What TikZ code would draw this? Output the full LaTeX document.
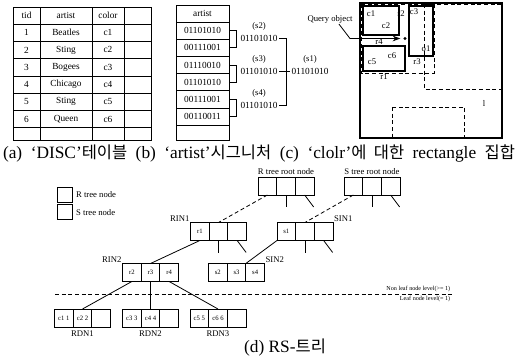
\documentclass[tikz,border=0pt]{standalone}
\usepackage{fontspec}
\setmainfont{Liberation Serif}
\newfontfamily\kr[Scale=0.95]{Noto Sans CJK KR}
\usetikzlibrary{arrows.meta,positioning}

\tikzset{
  tab/.style={font=\fontsize{7}{8}\selectfont, inner sep=0pt},
  bits/.style={font=\fontsize{7}{8}\selectfont, inner sep=1pt},
  lbl/.style={font=\fontsize{6.5}{7}\selectfont, inner sep=0.5pt},
  lvl/.style={font=\fontsize{4.6}{5}\selectfont, inner sep=1pt},
  captxt/.style={font=\fontsize{13}{15}\selectfont, inner sep=0pt},
  cell/.style={draw, minimum width=14pt, minimum height=13.5pt, inner sep=0pt,
    outer sep=0pt, font=\fontsize{5}{5}\selectfont},
  key/.style={draw, minimum width=11.25pt, minimum height=11.25pt, inner sep=0pt},
  mbr/.style={line width=1.1pt},
  dashln/.style={dash pattern=on 3pt off 2pt},
}

\begin{document}
\begin{tikzpicture}[x=0.75pt, y=-0.75pt, >=Stealth, line width=0.6pt]
  \useasboundingbox (0,0) rectangle (520,358);

  % (a) DISC table
  \draw (13,7) rectangle (151,140);
  \foreach \x in {40,92,124} \draw (\x,7) -- (\x,140);
  \foreach \y in {24,41.3,58.6,75.9,93.2,110.5,127.8} \draw (13,\y) -- (151,\y);
  \node[tab] (hTid) at (26.5,15.5) {tid};
  \node[tab] (hArtist) at (66,15.5) {artist};
  \node[tab] (hColor) at (108,15.5) {color};
  \foreach \a [count=\i] in {Beatles,Sting,Bogees,Chicago,Sting,Queen} {
    \node[tab] (tid\i) at (26.5,{24+17.3*(\i-0.5)}) {\i};
    \node[tab] (artist\i) at (66,{24+17.3*(\i-0.5)}) {\a};
    \node[tab] (color\i) at (108,{24+17.3*(\i-0.5)}) {c\i};
  }

  % (b) artist signatures
  \draw (176,5) rectangle (229,140);
  \foreach \y in {22,39.2,56.4,73.6,90.8,108,125.2} \draw (176,\y) -- (229,\y);
  \coordinate (sigR) at (229,0);
  \node[tab] (hSig) at (202.5,13.5) {artist};
  \foreach \b [count=\i] in {01101010,00111001,01110010,01101010,00111001,00110011}
    \node[bits] (sig\i) at (202.5,{22+17.2*(\i-0.5)}) {\b};
  \node[bits] (or2) at (259,38) {01101010};
  \node[bits] (or3) at (259,71) {01101010};
  \node[bits] (or4) at (259,105) {01101010};
  \node[lbl, above=1pt of or2] (s2) {(s2)};
  \node[lbl, above=1pt of or3] (s3) {(s3)};
  \node[lbl, above=1pt of or4] (s4) {(s4)};
  \draw (sig1 -| sigR) -- ++(7,0) |- (sig2 -| sigR);
  \draw (sig3 -| sigR) -- ++(7,0) |- (sig4 -| sigR);
  \draw (sig5 -| sigR) -- ++(7,0) |- (sig6 -| sigR);
  \coordinate (orR) at (286,0);
  \draw (or2.east) -- (or2 -| orR) -- (or4 -| orR) -- (or4.east);
  \node[bits] (or1) at (310,71) {01101010};
  \node[lbl, above=1pt of or1] (s1) {(s1)};
  \draw (or3.east) -- (or1.west);

  % (c) color rectangles
  \draw[line width=0.9pt] (360,3) rectangle (502,138);
  \draw[dashln] (424,4) rectangle (501,89);
  \draw[dashln] (361,4) rectangle (434,73);
  \draw[dashln] (392,107) rectangle (464,137);
  \draw[mbr] (363,6) rectangle (399,35);
  \draw[mbr] (409,6) rectangle (433,56);
  \draw[mbr] (363,46) rectangle (405,71);
  \node[lbl] (lc1) at (371,14) {c1};
  \node[lbl] (lc2) at (386,26) {c2};
  \node[lbl] (lr2) at (401,14) {r2};
  \node[lbl] (lc3) at (414,12) {c3};
  \node[lbl] (lo1) at (426,49) {o1};
  \node[lbl] (lr3) at (417,62) {r3};
  \node[lbl] (lr4) at (379,42) {r4};
  \node[lbl] (lc5) at (372,62) {c5};
  \node[lbl] (lc6) at (392,56) {c6};
  \node[lbl] (lr1) at (384,77) {r1};
  \node[lbl] (ll) at (484,103) {l};
  \node[lbl] (query) at (330,19) {Query object};
  \coordinate (qbend) at (350,38.5);
  \node[circle, fill, inner sep=0pt, minimum size=2.5pt] (qdot) at (405,38.5) {};
  \draw[->] ([xshift=-11pt]query.south east) -- (qbend) -- ([xshift=-2pt]qdot.west);

  % (d) RS-tree
  \node[key] (keyR) at (64.5,194.5) {};
  \node[key, below=1.5pt of keyR] (keyS) {};
  \node[lbl, right=2pt of keyR] (keyRtxt) {R tree node};
  \node[lbl, right=2pt of keyS] (keyStxt) {S tree node};
  \foreach \nm/\px/\py/\ta/\tb/\tc in {rootR/286/186/{}/{}/{}, rootS/372/186/{}/{}/{},
      rin1/218.5/231.5/r1/{}/{}, sin1/305/231.5/s1/{}/{}, rin2/150.5/272.5/r2/r3/r4,
      sin2/236.5/272.5/s2/s3/s4, rdn1/82.5/318/c1 1/c2 2/{}, rdn2/150.5/318/c3 3/c4 4/{},
      rdn3/218/318/c5 5/c6 6/{}} {
    \node[cell] (\nm b) at (\px,\py) {\tb};
    \node[cell, left=0pt of \nm b] (\nm a) {\ta};
    \node[cell, right=0pt of \nm b] (\nm c) {\tc};
  }
  \node[lbl, above=1pt of rootRb] (rootRtxt) {R tree root node};
  \node[lbl, above=1pt of rootSb] (rootStxt) {S tree root node};
  \node[lbl, anchor=south east] (rin1txt) at (rin1a.north west) {RIN1};
  \node[lbl, anchor=south west] (sin1txt) at (sin1c.north east) {SIN1};
  \node[lbl, anchor=south east] (rin2txt) at (rin2a.north west) {RIN2};
  \node[lbl, anchor=south west] (sin2txt) at (sin2c.north east) {SIN2};
  \foreach \nm/\t in {rdn1/RDN1, rdn2/RDN2, rdn3/RDN3}
    \node[lbl, below=2pt of \nm b] (\nm txt) {\t};
  \draw[dashln] (rootRa.south) -- (rin1b.north);
  \draw[dashln] (rootSa.south) -- (sin1b.north);
  \draw (rin1a.south) -- (rin2b.north);
  \draw (sin1a.south west) -- (sin2c.north west);
  \draw (rin2a.south) -- (rdn1b.north);
  \draw (rin2b.south) -- (rdn2b.north);
  \draw (rin2c.south) -- (rdn3b.north);
  \foreach \nm in {rootR,rootS,rin1,sin1} {
    \draw (\nm b.south) -- ++(0,12) coordinate (\nm bend);
    \draw (\nm c.south) -- ++(9,12) coordinate (\nm cend);
  }
  \coordinate (lvlL) at (55,294);
  \coordinate (lvlR) at (452,294);
  \draw[dashln] (lvlL) -- (lvlR);
  \node[lvl, anchor=south east] (nonleaf) at (lvlR) {Non leaf node level(>= 1)};
  \node[lvl, anchor=north east] (leaf) at (lvlR) {Leaf node level(= 1)};

  % captions
  \node[captxt] (capABC) at (259,153) {\makebox[384pt][s]{(a) `DISC'{\kr 테이블} (b) `artist'{\kr 시그니처} (c) `clolr'{\kr 에 대한} rectangle {\kr 집합}}};
  \node[captxt] (capD) at (285,348) {(d) RS-{\kr 트리}};
\end{tikzpicture}
\end{document}
